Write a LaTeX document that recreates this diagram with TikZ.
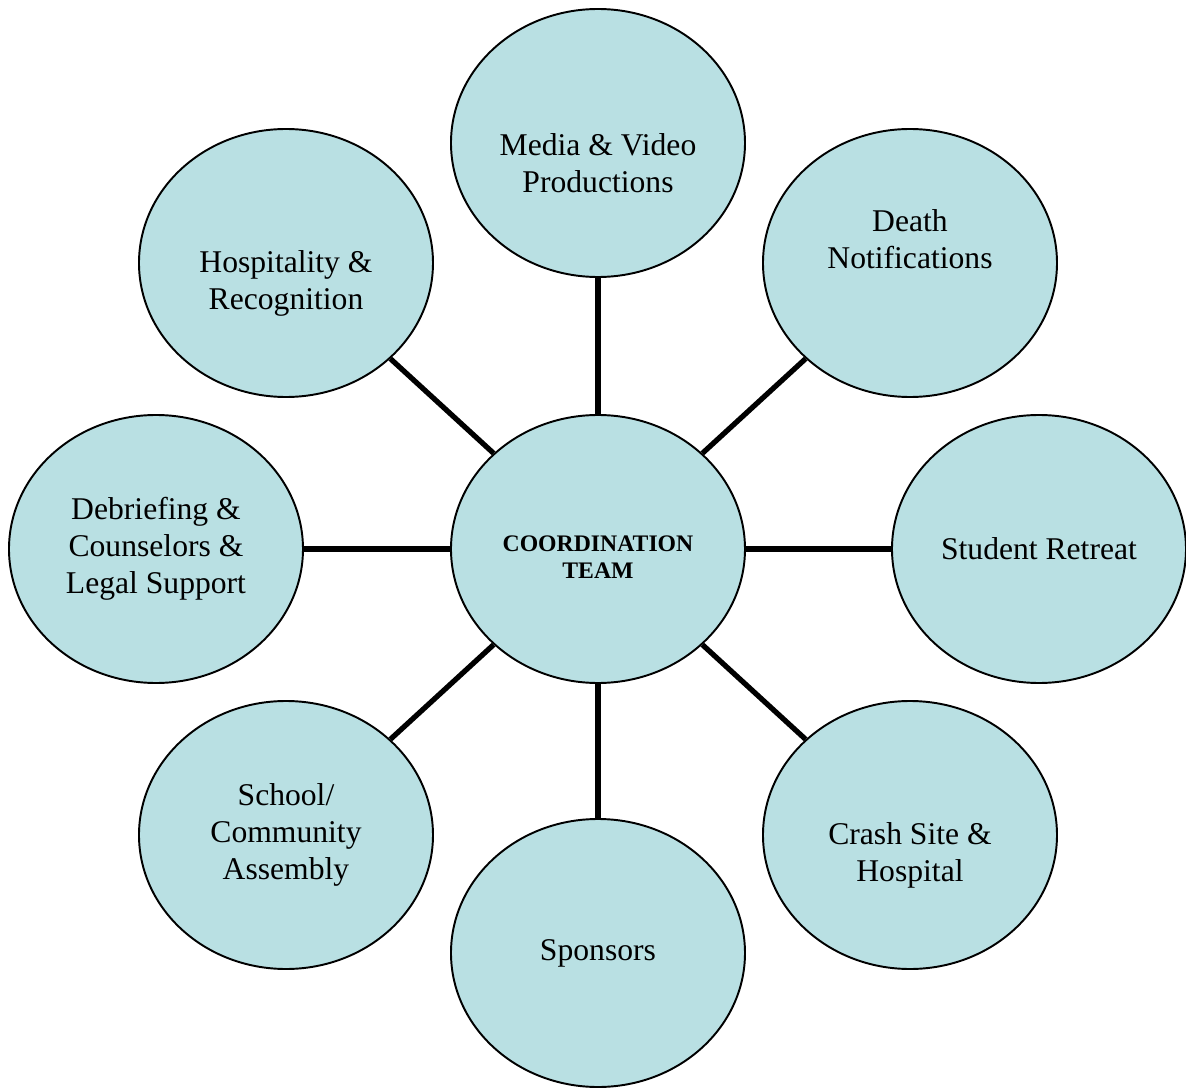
\documentclass[tikz,border=0pt]{standalone}
\usepackage{fontspec}
\setmainfont{Liberation Serif}
\usetikzlibrary{positioning,shapes.geometric}
\definecolor{bubble}{RGB}{185,224,227}

\begin{document}
\begin{tikzpicture}[teamnode/.style={ellipse, draw=black, fill=bubble, line width=1.1pt, minimum width=5.88cm, minimum height=5.36cm, inner sep=0pt, align=center},
                    hubnode/.style={teamnode, font=\fontsize{13.5}{15.5}\selectfont\bfseries},
                    spokenode/.style={teamnode, font=\fontsize{18}{21}\selectfont},
                    link/.style={line width=3pt},
                    node distance=1cm, on grid]
    \useasboundingbox (-11.96,-10.78) rectangle (11.76,10.98);
    % nodes
    \node[hubnode]   (team)                                          {\raisebox{-6pt}[\height][\depth]{\begin{tabular}{@{}c@{}}COORDINATION\\TEAM\end{tabular}}};
    \node[spokenode] (media)    [above=8.12cm of team]               {\strut\\Media \& Video\\Productions};
    \node[spokenode] (death)    [above right=5.72cm and 6.24cm of team] {Death\\Notifications\\\strut};
    \node[spokenode] (retreat)  [right=8.82cm of team]               {Student Retreat};
    \node[spokenode] (crash)    [below right=5.72cm and 6.24cm of team] {\strut\\Crash Site \&\\Hospital};
    \node[spokenode] (sponsors) [below=8.08cm of team]               {Sponsors};
    \node[spokenode] (assembly) [below left=5.72cm and 6.24cm of team]  {School/\\Community\\Assembly};
    \node[spokenode] (debrief)  [left=8.84cm of team]                {Debriefing \&\\Counselors \&\\Legal Support};
    \node[spokenode] (hospital) [above left=5.72cm and 6.24cm of team]  {\strut\\Hospitality \&\\Recognition};
    % lines
    \draw[link] (team) -- (media);
    \draw[link] (team) -- (death);
    \draw[link] (team) -- (retreat);
    \draw[link] (team) -- (crash);
    \draw[link] (team) -- (sponsors);
    \draw[link] (team) -- (assembly);
    \draw[link] (team) -- (debrief);
    \draw[link] (team) -- (hospital);
\end{tikzpicture}
\end{document}
